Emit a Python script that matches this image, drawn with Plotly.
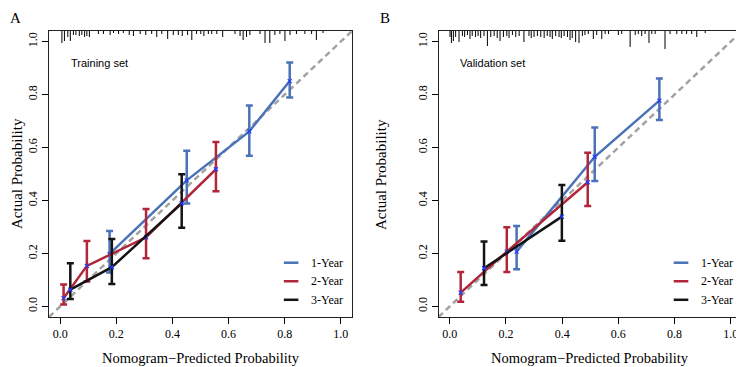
import plotly.graph_objects as go

# ---------------- data ----------------
# Panel A – Training set
a_y1_x = [0.176, 0.451, 0.674, 0.818]
a_y1_y = [0.198, 0.476, 0.661, 0.851]
a_y1_hi = [0.285, 0.588, 0.759, 0.921]
a_y1_lo = [0.128, 0.389, 0.569, 0.789]

a_y2_x = [0.012, 0.095, 0.306, 0.555]
a_y2_y = [0.031, 0.153, 0.261, 0.518]
a_y2_hi = [0.083, 0.247, 0.368, 0.621]
a_y2_lo = [0.007, 0.094, 0.182, 0.435]

a_y3_x = [0.036, 0.184, 0.433]
a_y3_y = [0.063, 0.148, 0.389]
a_y3_hi = [0.163, 0.255, 0.499]
a_y3_lo = [0.028, 0.085, 0.297]

# Panel B – Validation set
b_y1_x = [0.238, 0.516, 0.746]
b_y1_y = [0.207, 0.565, 0.777]
b_y1_hi = [0.304, 0.676, 0.861]
b_y1_lo = [0.140, 0.474, 0.704]

b_y2_x = [0.039, 0.203, 0.491]
b_y2_y = [0.052, 0.207, 0.469]
b_y2_hi = [0.130, 0.299, 0.580]
b_y2_lo = [0.018, 0.130, 0.379]

b_y3_x = [0.122, 0.399]
b_y3_y = [0.144, 0.339]
b_y3_hi = [0.245, 0.458]
b_y3_lo = [0.081, 0.248]

# distribution of predicted probabilities (rug at top), relative frequencies
rug_a_x = [0.006, 0.015, 0.027, 0.036, 0.047, 0.056, 0.068, 0.077, 0.087, 0.095,
           0.104, 0.136, 0.154, 0.178, 0.190, 0.208, 0.225, 0.246, 0.261, 0.285,
           0.305, 0.326, 0.344, 0.362, 0.383, 0.403, 0.421, 0.435, 0.454, 0.469,
           0.486, 0.501, 0.512, 0.528, 0.540, 0.558, 0.579, 0.623, 0.641, 0.652,
           0.664, 0.676, 0.712, 0.730, 0.747, 0.765, 0.783, 0.801, 0.819, 0.842,
           0.872, 0.896, 0.913, 0.937]
rug_a_n = [12, 10, 6, 10, 4, 4, 5, 4, 6, 5,
           6, 3, 3, 4, 2, 3, 2, 4, 5, 3,
           4, 3, 6, 3, 8, 4, 4, 5, 4, 9,
           3, 3, 5, 3, 3, 3, 6, 3, 5, 9,
           6, 4, 3, 12, 12, 4, 3, 10, 4, 3,
           3, 3, 9, 2]

rug_b_x = [0.001, 0.006, 0.013, 0.021, 0.033, 0.045, 0.053, 0.063, 0.072, 0.080,
           0.092, 0.101, 0.110, 0.122, 0.134, 0.146, 0.158, 0.169, 0.179, 0.191,
           0.203, 0.211, 0.223, 0.235, 0.247, 0.264, 0.282, 0.290, 0.300, 0.312,
           0.324, 0.336, 0.347, 0.357, 0.365, 0.377, 0.389, 0.397, 0.407, 0.419,
           0.428, 0.436, 0.448, 0.460, 0.472, 0.481, 0.493, 0.511, 0.523, 0.541,
           0.553, 0.565, 0.600, 0.612, 0.642, 0.660, 0.671, 0.683, 0.695, 0.709,
           0.719, 0.731, 0.766, 0.784, 0.808, 0.826, 0.843, 0.861, 0.879, 0.909]
rug_b_n = [6, 12, 10, 6, 11, 5, 6, 4, 8, 5,
           6, 5, 7, 5, 15, 6, 5, 7, 10, 6,
           5, 7, 4, 6, 5, 11, 5, 7, 6, 5,
           6, 7, 5, 6, 8, 5, 6, 7, 5, 6,
           9, 7, 11, 12, 5, 4, 3, 8, 4, 8,
           3, 3, 4, 3, 16, 4, 3, 5, 3, 12,
           3, 3, 18, 3, 3, 3, 3, 3, 6, 2]

series_names = ["1-Year", "2-Year", "3-Year"]
series_colors = ["#4A72B8", "#B1263A", "#141414"]
x_ticks = [0.0, 0.2, 0.4, 0.6, 0.8, 1.0]
x_tick_text = ["0.0", "0.2", "0.4", "0.6", "0.8", "1.0"]
panel_titles = ["Training set", "Validation set"]
panel_letters = ["A", "B"]
x_title = "Nomogram\u2212Predicted Probability"
y_title = "Actual Probability"

AX_LO, AX_HI = -0.04, 1.04
PX_PER_UNIT = 265.0
SERIF = "Liberation Serif, Times New Roman, serif"
SANS = "Liberation Sans, Arial, sans-serif"

panels = [
    dict(series=[(a_y1_x, a_y1_y, a_y1_hi, a_y1_lo),
                 (a_y2_x, a_y2_y, a_y2_hi, a_y2_lo),
                 (a_y3_x, a_y3_y, a_y3_hi, a_y3_lo)],
         rug=(rug_a_x, rug_a_n), xa="x", ya="y"),
    dict(series=[(b_y1_x, b_y1_y, b_y1_hi, b_y1_lo),
                 (b_y2_x, b_y2_y, b_y2_hi, b_y2_lo),
                 (b_y3_x, b_y3_y, b_y3_hi, b_y3_lo)],
         rug=(rug_b_x, rug_b_n), xa="x2", ya="y2"),
]

fig = go.Figure()

for p in panels:
    xa, ya = p["xa"], p["ya"]
    # ideal diagonal
    fig.add_trace(go.Scatter(x=[AX_LO, AX_HI], y=[AX_LO, AX_HI], mode="lines",
                             line=dict(color="#A3A3A3", width=2.5, dash="6px,4px"),
                             xaxis=xa, yaxis=ya, showlegend=False, hoverinfo="skip"))
    # rug
    rx, rn = p["rug"]
    xs, ys = [], []
    for xv, nv in zip(rx, rn):
        xs += [xv, xv, None]
        ys += [AX_HI, AX_HI - nv / PX_PER_UNIT, None]
    fig.add_trace(go.Scatter(x=xs, y=ys, mode="lines", line=dict(color="black", width=1),
                             xaxis=xa, yaxis=ya, showlegend=False, hoverinfo="skip"))
    # series
    for (sx, sy, hi, lo), col, nm in zip(p["series"], series_colors, series_names):
        fig.add_trace(go.Scatter(
            x=sx, y=sy, mode="lines+markers", name=nm,
            line=dict(color=col, width=2.5),
            marker=dict(symbol="x-thin", size=4, color="#1F3BFF",
                        line=dict(color="#1F3BFF", width=1.2)),
            error_y=dict(type="data", symmetric=False,
                         array=[h - v for h, v in zip(hi, sy)],
                         arrayminus=[v - l for v, l in zip(sy, lo)],
                         color=col, thickness=2.5, width=3.5),
            xaxis=xa, yaxis=ya, showlegend=False))

# the page body adds an 8 px margin; lay out in screen pixels and compensate
OFF = 8
SW, SH = 744, 367
W, H = SW - OFF, SH - OFF


def px(xs):
    return (xs - OFF) / W


def py(ys):
    return (H - (ys - OFF)) / H


boxA = (49, 352)
boxB = (438.5, 742)
box_top, box_bot = 31, 317
ydom = [py(box_bot), py(box_top)]


def xaxis(box, anchor):
    return dict(domain=[px(box[0]), px(box[1])], range=[AX_LO, AX_HI], anchor=anchor,
                tickvals=x_ticks, ticktext=x_tick_text,
                ticks="outside", ticklen=6, tickwidth=1, tickcolor="black",
                showline=True, linecolor="#222", linewidth=1, mirror=True,
                showgrid=False, zeroline=False,
                tickfont=dict(family=SERIF, size=12, color="black"))


def yaxis(anchor):
    return dict(domain=ydom, range=[AX_LO, AX_HI], anchor=anchor,
                tickvals=x_ticks, ticktext=x_tick_text, tickangle=-90,
                ticks="outside", ticklen=6, tickwidth=1, tickcolor="black",
                showline=True, linecolor="#222", linewidth=1, mirror=True,
                showgrid=False, zeroline=False,
                tickfont=dict(family=SERIF, size=12, color="black"))


fig.update_layout(
    width=W, height=H, margin=dict(l=0, r=0, t=0, b=0),
    paper_bgcolor="white", plot_bgcolor="white", showlegend=False,
    xaxis=xaxis(boxA, "y"),
    yaxis=yaxis("x"),
    xaxis2=xaxis(boxB, "y2"),
    yaxis2=yaxis("x2"),
)

shapes, annots = [], []
leg_rows = [0.165, 0.095, 0.025]
letter_x = [OFF, 378]
ytitle_cx = [17, 381]
for i, (box, xa, ya) in enumerate([(boxA, "x", "y"), (boxB, "x2", "y2")]):
    # legend
    for r, col, nm in zip(leg_rows, series_colors, series_names):
        shapes.append(dict(type="line", xref=xa, yref=ya, x0=0.797, x1=0.849, y0=r, y1=r,
                           line=dict(color=col, width=2.5)))
        annots.append(dict(xref=xa, yref=ya, x=0.888, y=r, text=nm, showarrow=False,
                           xanchor="left", yanchor="middle",
                           font=dict(family=SERIF, size=12, color="black")))
    # panel subtitle
    annots.append(dict(xref=xa, yref=ya, x=0.03, y=0.918, text=panel_titles[i],
                       showarrow=False, xanchor="left", yanchor="middle",
                       font=dict(family=SANS, size=11, color="black")))
    # panel letter
    annots.append(dict(xref="paper", yref="paper", x=px(letter_x[i]), y=1.0,
                       text=panel_letters[i], showarrow=False, xanchor="left",
                       yanchor="top", font=dict(family=SERIF, size=15, color="black")))
    # axis titles
    annots.append(dict(xref="paper", yref="paper", x=px(ytitle_cx[i]), y=py(174),
                       text=y_title, textangle=-90, showarrow=False,
                       xanchor="center", yanchor="middle",
                       font=dict(family=SERIF, size=15, color="black")))
    annots.append(dict(xref="paper", yref="paper", x=px(box[0] + 151.5), y=py(358),
                       text=x_title, showarrow=False, xanchor="center", yanchor="middle",
                       font=dict(family=SERIF, size=14.5, color="black")))

fig.update_layout(shapes=shapes, annotations=annots)
fig.write_html("out.html")
